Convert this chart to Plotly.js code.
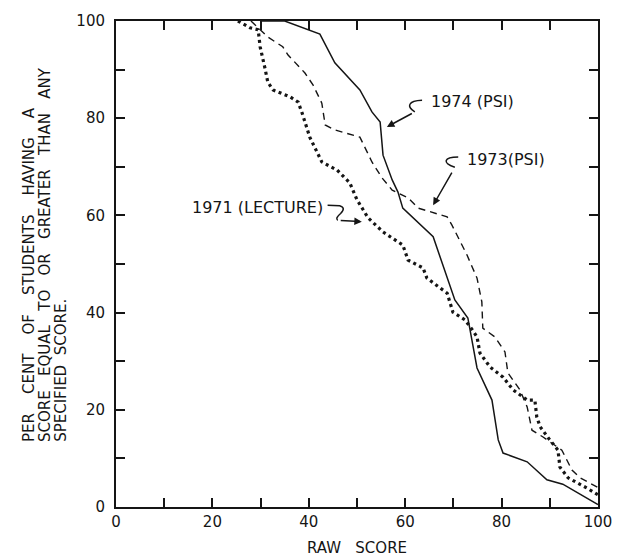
<!DOCTYPE html>
<html>
<head>
<meta charset="utf-8">
<script src="https://cdn.plot.ly/plotly-3.0.1.min.js"></script>
<style>html,body{margin:0;padding:0;background:#fff;}</style>
</head>
<body>
<div id="chart" style="width:618px;height:560px;"></div>
<script>
// 1974 (PSI) - solid
const x1974 = [30, 35, 42.3, 45.4, 50.6, 53.1, 54.8, 55.4, 57.3, 58.5, 59.5, 65.8, 70.3, 73.0, 74.9, 78.0, 79.3, 80.3, 85.3, 89.4, 92.7, 100];
const y1974 = [100, 100, 97.3, 91.4, 85.8, 81.3, 79.2, 72.4, 67.3, 64.8, 61.5, 55.6, 42.6, 38.9, 28.6, 22.0, 13.8, 11.1, 9.3, 5.6, 4.7, 0.5];
// 1973 (PSI) - dashed
const x1973 = [28, 29.3, 31.5, 34.6, 35.7, 39.2, 40.9, 42.7, 43.4, 45.4, 50.6, 51.2, 53.1, 55.2, 57.3, 60.6, 62.7, 68.7, 69.7, 72.8, 74.9, 75.9, 76.1, 78.6, 80.7, 81.3, 83.8, 85.3, 86.3, 88.6, 92.5, 94.6, 96.3, 100];
const y1973 = [100, 98.8, 96.7, 94.7, 93.0, 89.3, 86.8, 83.1, 78.6, 77.6, 76.1, 74.9, 71.0, 67.7, 65.2, 63.6, 61.5, 59.7, 58.0, 51.9, 47.1, 42.2, 36.8, 35.0, 31.9, 27.6, 24.1, 20.6, 15.8, 14.4, 11.7, 7.6, 6.0, 4.0];
// 1971 (LECTURE) - dotted
const x1971 = [25.3, 27.8, 29.5, 29.9, 30.9, 31.5, 32.6, 36.1, 37.8, 38.6, 40.2, 41.9, 42.7, 45.9, 48.5, 50.0, 52.3, 55.4, 59.5, 60.6, 63.7, 64.5, 66.8, 68.7, 69.9, 72.4, 73.9, 74.9, 75.5, 77.6, 80.3, 82.4, 85.3, 86.9, 87.3, 88.0, 90.0, 91.7, 92.1, 93.8, 97.7, 100];
const y1971 = [100, 98.6, 98.2, 94.7, 90.3, 87.4, 85.8, 84.4, 83.3, 81.1, 76.1, 72.8, 71.0, 69.3, 66.7, 63.2, 59.5, 56.6, 53.9, 50.8, 49.2, 47.1, 45.3, 44.0, 40.1, 38.5, 36.5, 35.0, 31.7, 28.8, 26.7, 24.1, 22.0, 22.0, 18.5, 16.5, 13.8, 11.7, 8.2, 6.0, 3.9, 2.5];

const seriesNames = ["1974 (PSI)", "1973(PSI)", "1971 (LECTURE)"];
const tickVals = [0, 10, 20, 30, 40, 50, 60, 70, 80, 90, 100];
const tickText = ["0", "", "20", "", "40", "", "60", "", "80", "", "100"];
const yTitleWords = [
  ["PER", "CENT", "OF", "STUDENTS", "HAVING", "A"],
  ["SCORE", "EQUAL", "TO", "OR", "GREATER", "THAN", "ANY"],
  ["SPECIFIED", "SCORE."]
];
const xTitleWords = ["RAW", "SCORE"];

const gap4 = "\u00a0\u00a0\u00a0\u00a0";
const yTitleLines = [yTitleWords[0].join(gap4), yTitleWords[1].join("\u00a0\u00a0\u00a0"), yTitleWords[2].join("\u00a0\u00a0")];

const ink = "#151515";
const fontFam = "DejaVu Sans, sans-serif";

const traces = [
  {x: x1974, y: y1974, name: seriesNames[0], mode: "lines", line: {color: ink, width: 1.5}},
  {x: x1973, y: y1973, name: seriesNames[1], mode: "lines", line: {color: ink, width: 1.4, dash: "7px,5px"}},
  {x: x1971, y: y1971, name: seriesNames[2], mode: "lines", line: {color: ink, width: 3.2, dash: "3px,3.5px"}}
];

const axisCommon = {
  range: [0, 100], tickmode: "array", tickvals: tickVals, ticktext: tickText,
  ticks: "inside", ticklen: 9, tickwidth: 2, tickcolor: ink,
  showline: true, linewidth: 2, linecolor: ink, mirror: "ticks",
  showgrid: false, zeroline: false,
  tickfont: {family: fontFam, size: 15, color: ink}
};

const annotations = [
  {x: 64.9, y: 83.5, xref: "x", yref: "y", text: seriesNames[0], showarrow: false, xanchor: "left", yanchor: "middle", font: {family: fontFam, size: 16, color: ink}},
  {x: 72.4, y: 71.6, xref: "x", yref: "y", text: seriesNames[1], showarrow: false, xanchor: "left", yanchor: "middle", font: {family: fontFam, size: 16, color: ink}},
  {x: 43.3, y: 61.7, xref: "x", yref: "y", text: seriesNames[2], showarrow: false, xanchor: "right", yanchor: "middle", font: {family: fontFam, size: 16, color: ink}},
  // arrows
  {x: 56.2, y: 78.2, ax: 62.0, ay: 81.3, xref: "x", yref: "y", axref: "x", ayref: "y", text: " ", showarrow: true, arrowhead: 2, arrowsize: 1, arrowwidth: 1.5, arrowcolor: ink, standoff: 0},
  {x: 65.8, y: 62.1, ax: 70.3, ay: 69.9, xref: "x", yref: "y", axref: "x", ayref: "y", text: " ", showarrow: true, arrowhead: 2, arrowsize: 1, arrowwidth: 1.5, arrowcolor: ink, standoff: 0},
  {x: 51.0, y: 58.7, ax: 46.0, ay: 59.0, xref: "x", yref: "y", axref: "x", ayref: "y", text: " ", showarrow: true, arrowhead: 2, arrowsize: 1, arrowwidth: 1.5, arrowcolor: ink, standoff: 0},
  // y-axis title lines
  {x: -0.179, y: 0.13, xref: "paper", yref: "paper", text: yTitleLines[0], textangle: -90, showarrow: false, xanchor: "center", yanchor: "bottom", font: {family: fontFam, size: 15, color: ink}},
  {x: -0.146, y: 0.13, xref: "paper", yref: "paper", text: yTitleLines[1], textangle: -90, showarrow: false, xanchor: "center", yanchor: "bottom", font: {family: fontFam, size: 15, color: ink}},
  {x: -0.113, y: 0.13, xref: "paper", yref: "paper", text: yTitleLines[2], textangle: -90, showarrow: false, xanchor: "center", yanchor: "bottom", font: {family: fontFam, size: 15, color: ink}}
];

const shapes = [
  {type: "path", xref: "x", yref: "y", path: "M63.5,83.7 C60.6,83.6 60.2,82.4 62.0,81.3", line: {color: ink, width: 1.5}},
  {type: "path", xref: "x", yref: "y", path: "M71.0,72.0 C68.0,72.0 67.6,70.8 70.3,69.9", line: {color: ink, width: 1.5}},
  {type: "path", xref: "x", yref: "y", path: "M43.9,62.1 L46.4,62.0 Q47.8,61.6 46.6,60.4 Q45.4,59.4 46.0,59.0", line: {color: ink, width: 1.5}}
];

const layout = {
  width: 618, height: 560,
  margin: {l: 116, r: 20, t: 21, b: 53, pad: 0},
  paper_bgcolor: "#ffffff", plot_bgcolor: "#ffffff",
  showlegend: false,
  xaxis: Object.assign({}, axisCommon, {
    title: {text: xTitleWords.join("\u00a0\u00a0\u00a0"), font: {family: fontFam, size: 15, color: ink}, standoff: 12}
  }),
  yaxis: Object.assign({}, axisCommon, {ticklabelstandoff: 6}),
  annotations: annotations,
  shapes: shapes
};

Plotly.newPlot("chart", traces, layout, {displayModeBar: false, staticPlot: true});
</script>
</body>
</html>
